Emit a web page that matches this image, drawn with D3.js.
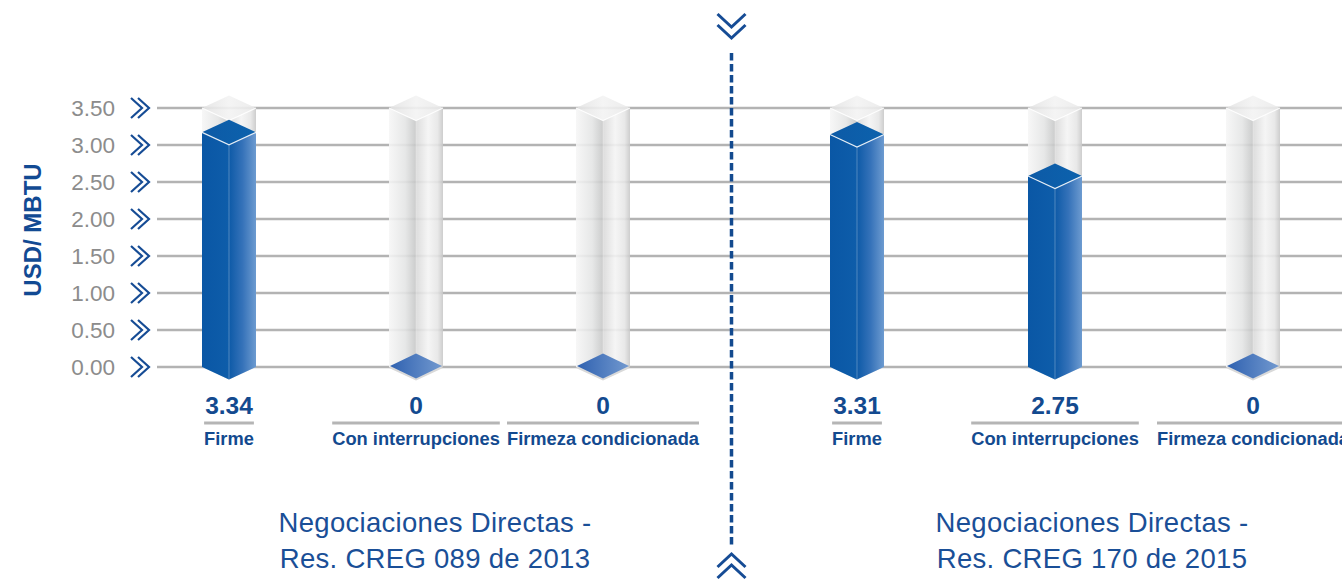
<!DOCTYPE html>
<html>
<head>
<meta charset="utf-8">
<script src="https://cdn.jsdelivr.net/npm/d3@7"></script>
<style>
  body { margin: 0; background: #fff; }
  svg { display: block; font-family: "Liberation Sans", Arial, sans-serif; }
</style>
</head>
<body>
<div id="chart"></div>
<script>
// data
const categories = ["Firme", "Con interrupciones", "Firmeza condicionada"];
const groupTitles = [
  ["Negociaciones Directas -", "Res. CREG 089 de 2013"],
  ["Negociaciones Directas -", "Res. CREG 170 de 2015"]
];
const values2013 = [3.34, 0, 0];
const values2015 = [3.31, 2.75, 0];
const valueLabels2013 = ["3.34", "0", "0"];
const valueLabels2015 = ["3.31", "2.75", "0"];
const yTicks = [0, 0.5, 1, 1.5, 2, 2.5, 3, 3.5];
const yMax = 3.5;

const W = 1342, H = 580;
const blue = "#134a8f";
const groupRanges = [[229, 603], [857, 1253]];
const titleX = [435, 1092];
const halfW = 27, depth = 12.5;

const svg = d3.select("#chart").append("svg")
  .attr("width", W).attr("height", H);

const y = d3.scaleLinear().domain([0, yMax]).range([367, 108]);

// gradients
const defs = svg.append("defs");
function grad(id, stops) {
  const g = defs.append("linearGradient").attr("id", id)
    .attr("x1", "0%").attr("x2", "100%").attr("y1", "0%").attr("y2", "0%");
  stops.forEach(s => g.append("stop").attr("offset", s[0]).attr("stop-color", s[1]));
}
grad("ghostL", [["0%", "#f6f6f6"], ["60%", "#e4e5e5"], ["100%", "#c6c7c7"]]);
grad("ghostR", [["0%", "#d9d9d9"], ["45%", "#f4f4f4"], ["80%", "#e6e6e6"], ["100%", "#c8c8c8"]]);
grad("ghostT", [["0%", "#e3e3e3"], ["50%", "#f3f3f3"], ["100%", "#e9e9e9"]]);
grad("blueL", [["0%", "#0a57a5"], ["100%", "#0e5daa"]]);
grad("blueR", [["0%", "#0d5aa7"], ["50%", "#3572b9"], ["100%", "#6d9bd0"]]);
grad("blueT", [["0%", "#0d5aa6"], ["100%", "#0c62ad"]]);
grad("blueZ", [["0%", "#2f61b0"], ["100%", "#7299cf"]]);

// gridlines
svg.append("g").selectAll("line").data(yTicks).join("line")
  .attr("x1", 157).attr("x2", W)
  .attr("y1", d => y(d)).attr("y2", d => y(d))
  .attr("stroke", "#b3b3b3").attr("stroke-width", 2.5);

// y axis labels
const yAxis = svg.append("g").attr("transform", "translate(115,0)")
  .call(d3.axisLeft(y).tickValues(yTicks).tickFormat(d3.format(".2f")).tickSize(0).tickPadding(0));
yAxis.select(".domain").remove();
yAxis.selectAll("text").attr("fill", "#8c8c8c").attr("font-size", 22.5)
  .attr("font-family", "Liberation Sans, Arial, sans-serif");

// axis chevrons
const chev = svg.append("g");
yTicks.forEach(t => {
  [0, 7].forEach(o => {
    chev.append("polyline")
      .attr("points", `${131 + o},${y(t) - 10} ${142 + o},${y(t)} ${131 + o},${y(t) + 10}`)
      .attr("fill", "none").attr("stroke", "#164c95").attr("stroke-width", 2.2);
  });
});

svg.append("text")
  .attr("transform", "translate(41,230) rotate(-90)")
  .attr("text-anchor", "middle")
  .attr("font-size", 24).attr("font-weight", "bold").attr("fill", "#124a93")
  .text("USD/ MBTU");

function pts(a) { return a.map(p => p.join(",")).join(" "); }

function drawPrism(g, cx, yTop, yBot, fills, opacity) {
  const L = cx - halfW, R = cx + halfW;
  g.append("polygon").attr("points", pts([[L, yTop], [cx, yTop + depth], [cx, yBot + depth], [L, yBot]]))
    .attr("fill", fills[0]).attr("opacity", opacity);
  g.append("polygon").attr("points", pts([[cx, yTop + depth], [R, yTop], [R, yBot], [cx, yBot + depth]]))
    .attr("fill", fills[1]).attr("opacity", opacity);
  g.append("polygon").attr("points", pts([[L, yTop], [cx, yTop - depth], [R, yTop], [cx, yTop + depth]]))
    .attr("fill", fills[2]).attr("opacity", opacity);
  g.append("polyline").attr("points", pts([[L, yTop], [cx, yTop + depth], [R, yTop]]))
    .attr("fill", "none").attr("stroke", "#fff").attr("stroke-width", 1.2).attr("opacity", 0.85);
  g.append("line").attr("x1", cx).attr("x2", cx).attr("y1", yTop + depth).attr("y2", yBot + depth)
    .attr("stroke", "#fff").attr("stroke-width", 0.8).attr("opacity", 0.35);
}

function drawGroup(gi, values, valueLabels) {
  const x = d3.scalePoint().domain(categories).range(groupRanges[gi]);
  const g = svg.append("g");
  categories.forEach((c, i) => {
    const cx = x(c);
    const v = values[i];
    // ghost column up to axis max
    drawPrism(g, cx, y(yMax), y(0), ["url(#ghostL)", "url(#ghostR)", "url(#ghostT)"], 0.9);
    if (v > 0) {
      const top = Math.min(y(v) + depth, y(0));
      drawPrism(g, cx, top, y(0), ["url(#blueL)", "url(#blueR)", "url(#blueT)"], 1);
    } else {
      const y0 = y(0) - 1;
      g.append("polygon")
        .attr("points", pts([[cx - halfW, y0 + 2], [cx, y0 - depth + 2], [cx + halfW, y0 + 2], [cx, y0 + depth + 2]]))
        .attr("fill", "#d9d9d9");
      g.append("polygon")
        .attr("points", pts([[cx - halfW + 1, y0], [cx, y0 - depth], [cx + halfW - 1, y0], [cx, y0 + depth]]))
        .attr("fill", "url(#blueZ)");
    }
    // labels
    g.append("text").attr("x", cx).attr("y", 414).attr("text-anchor", "middle")
      .attr("font-size", 24.5).attr("font-weight", "bold").attr("fill", blue)
      .text(valueLabels[i]);
    const lab = g.append("text").attr("x", cx).attr("y", 445).attr("text-anchor", "middle")
      .attr("font-size", 18.3).attr("font-weight", "bold").attr("fill", blue)
      .text(c);
    const lw = lab.node().getComputedTextLength();
    g.append("rect").attr("x", cx - lw / 2).attr("y", 421.5).attr("width", lw).attr("height", 3)
      .attr("fill", "#b5b5b5");
  });
  [532, 568].forEach((yy, li) => {
    g.append("text").attr("x", titleX[gi]).attr("y", yy).attr("text-anchor", "middle")
      .attr("font-size", 27.5).attr("letter-spacing", 0.3).attr("fill", "#1a4f97")
      .text(groupTitles[gi][li]);
  });
}

drawGroup(0, values2013, valueLabels2013);
drawGroup(1, values2015, valueLabels2015);

// divider
const dx = 731.5;
svg.append("line").attr("x1", dx).attr("x2", dx).attr("y1", 53).attr("y2", 545)
  .attr("stroke", blue).attr("stroke-width", 3.5).attr("stroke-dasharray", "7.5 3.5");
[[14, 27], [25, 38]].forEach(p => {
  svg.append("polyline").attr("points", `${dx - 14},${p[0]} ${dx},${p[1]} ${dx + 14},${p[0]}`)
    .attr("fill", "none").attr("stroke", "#164c95").attr("stroke-width", 3);
});
[[567, 554], [578, 565]].forEach(p => {
  svg.append("polyline").attr("points", `${dx - 14},${p[0]} ${dx},${p[1]} ${dx + 14},${p[0]}`)
    .attr("fill", "none").attr("stroke", "#164c95").attr("stroke-width", 3);
});
</script>
</body>
</html>
